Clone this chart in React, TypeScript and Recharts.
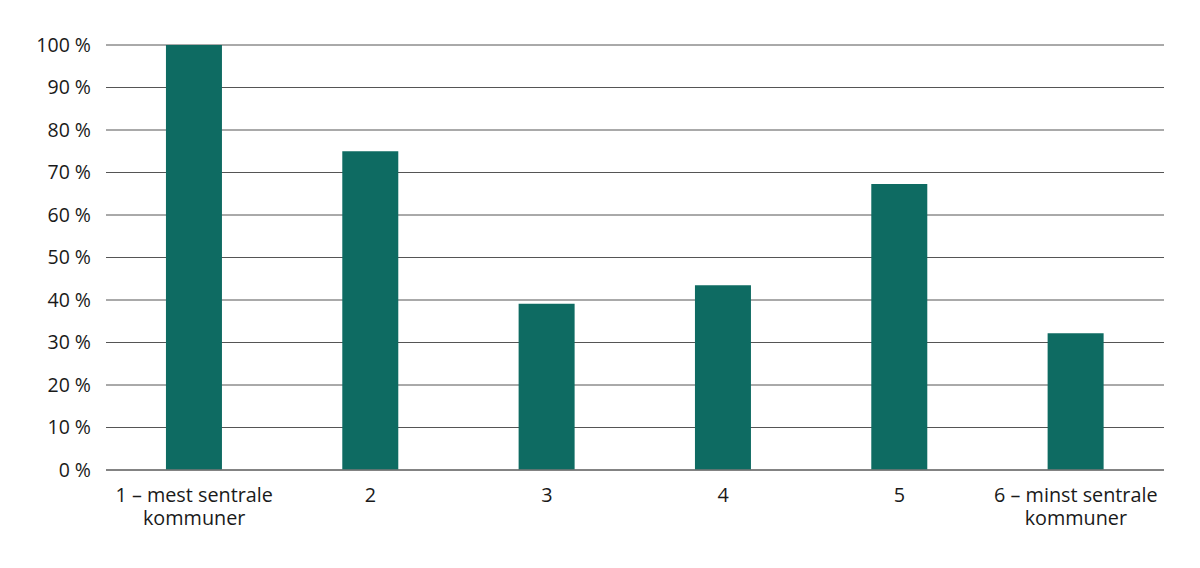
import React from "react";
import { BarChart, Bar, XAxis, YAxis, CartesianGrid } from "recharts";

const categories = ["1 – mest sentrale\nkommuner", "2", "3", "4", "5", "6 – minst sentrale\nkommuner"];
const values = [100, 75, 39.1, 43.5, 67.3, 32.2];
const yTicks = [0, 10, 20, 30, 40, 50, 60, 70, 80, 90, 100];

const data = categories.map((c, i) => ({ name: c, value: values[i] }));

const FONT = "'Open Sans', sans-serif";

const XTick = (props: any) => {
  const { x, y, payload } = props;
  const lines = String(payload.value).split("\n");
  return (
    <text x={x} y={y} textAnchor="middle" fill="#1a1a1a" fontFamily={FONT} fontSize={19.8}>
      {lines.map((l: string, i: number) => (
        <tspan key={i} x={x} dy={i === 0 ? 24 : 23}>
          {l}
        </tspan>
      ))}
    </text>
  );
};

export default function App() {
  return (
    <div style={{ width: 1192, height: 552, background: "#fff" }}>
      <BarChart
        width={1192}
        height={552}
        data={data}
        margin={{ top: 37, right: 36, left: 0, bottom: 30 }}
        barCategoryGap="34%"
      >
        <CartesianGrid vertical={false} stroke="#555" strokeWidth={1} />
        <XAxis
          dataKey="name"
          interval={0}
          height={60}
          tickLine={false}
          axisLine={{ stroke: "#777", strokeWidth: 1.5 }}
          tick={<XTick />}
        />
        <YAxis
          width={98}
          domain={[0, 100]}
          ticks={yTicks}
          axisLine={false}
          tickLine={false}
          tickSize={0}
          tickMargin={15}
          tickFormatter={(v: number) => `${v} %`}
          tick={{ fill: "#1a1a1a", fontFamily: FONT, fontSize: 19.5 }}
        />
        <Bar dataKey="value" fill="#0e6b62" isAnimationActive={false} />
      </BarChart>
    </div>
  );
}
